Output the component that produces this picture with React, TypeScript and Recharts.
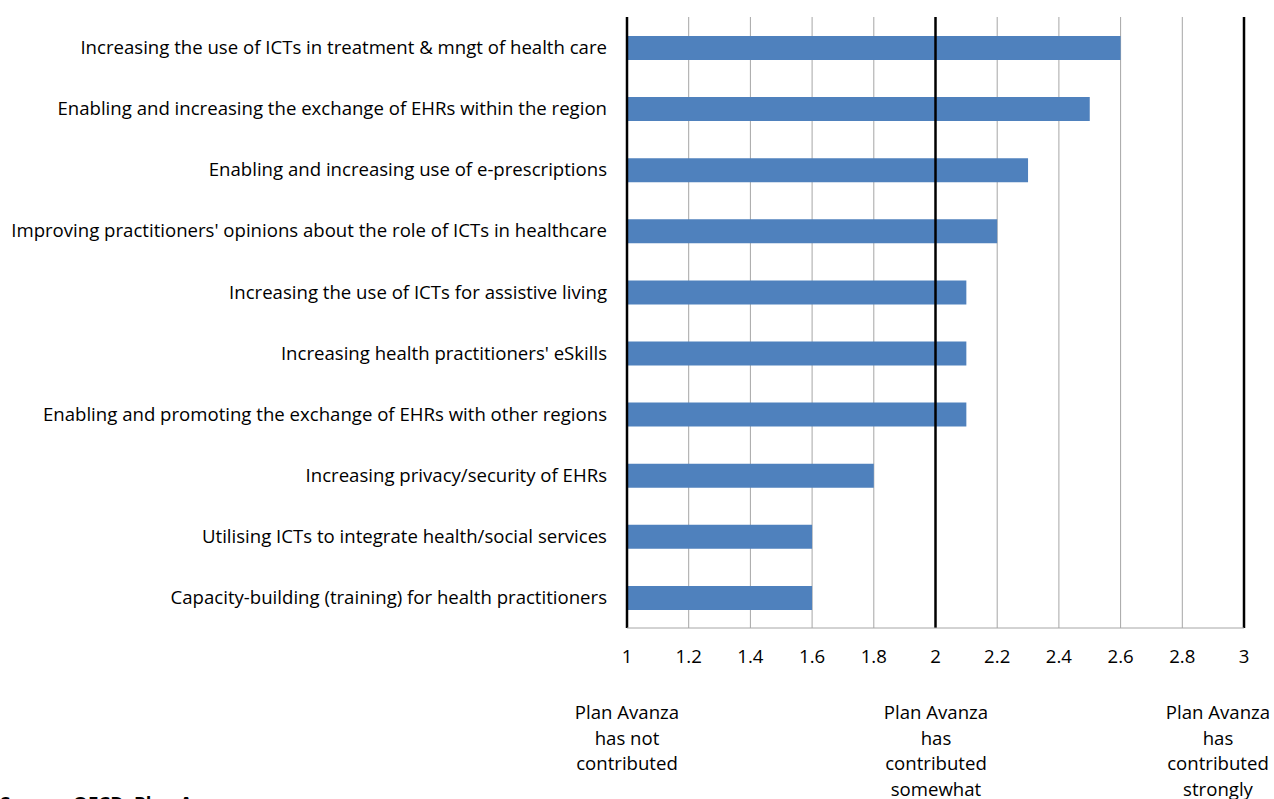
import React from 'react'
import { BarChart, Bar, XAxis, YAxis, CartesianGrid, ReferenceLine } from 'recharts'

const categories = [
  'Increasing the use of ICTs in treatment & mngt of health care',
  'Enabling and increasing the exchange of EHRs within the region',
  'Enabling and increasing use of e-prescriptions',
  "Improving practitioners' opinions about the role of ICTs in healthcare",
  'Increasing the use of ICTs for assistive living',
  "Increasing health practitioners' eSkills",
  'Enabling and promoting the exchange of EHRs with other regions',
  'Increasing privacy/security of EHRs',
  'Utilising ICTs to integrate health/social services',
  'Capacity-building (training) for health practitioners',
]
const scores = [2.6, 2.5, 2.3, 2.2, 2.1, 2.1, 2.1, 1.8, 1.6, 1.6]
const xTicks = [1, 1.2, 1.4, 1.6, 1.8, 2, 2.2, 2.4, 2.6, 2.8, 3]
const scaleMarks = [1, 2, 3]
const scaleLabels = [
  ['Plan Avanza', 'has not', 'contributed'],
  ['Plan Avanza', 'has', 'contributed', 'somewhat'],
  ['Plan Avanza', 'has', 'contributed', 'strongly'],
]

const data = categories.map((name, i) => ({ name, score: scores[i] }))

const FONT = '"Open Sans", sans-serif'
const FS = 18.6
const W = 1274
const H = 799

export default function App() {
  // label centres match the reference (last one is pulled in from the edge)
  const labelX = [627, 936, 1218]
  return (
    <div style={{ position: 'absolute', left: 0, top: 0, width: W, height: H, overflow: 'hidden', background: '#fff', fontFamily: FONT }}>
      <BarChart
        width={W}
        height={H}
        data={data}
        layout="vertical"
        margin={{ top: 17, right: 30, left: 0, bottom: 131 }}
        barSize={24}
      >
        <CartesianGrid horizontal={false} stroke="#a6a6a6" strokeWidth={1} />
        <XAxis
          type="number"
          domain={[1, 3]}
          ticks={xTicks}
          allowDataOverflow
          height={40}
          axisLine={{ stroke: '#a6a6a6' }}
          tickLine={false}
          tickMargin={16}
          tick={{ fill: '#000', fontSize: FS, fontFamily: FONT }}
        />
        <YAxis
          type="category"
          dataKey="name"
          width={627}
          axisLine={false}
          tickLine={false}
          tickMargin={14}
          interval={0}
          tick={{ fill: '#000', fontSize: FS, fontFamily: FONT }}
        />
        <Bar dataKey="score" fill="#4f81bd" isAnimationActive={false} />
        {scaleMarks.map((v) => (
          <ReferenceLine key={v} x={v} stroke="#000" strokeWidth={2.5} />
        ))}
      </BarChart>
      {scaleLabels.map((lines, i) => (
        <div
          key={i}
          style={{
            position: 'absolute',
            left: labelX[i] - 80,
            top: 699,
            width: 160,
            textAlign: 'center',
            fontSize: FS,
            lineHeight: '25.5px',
            color: '#000',
          }}
        >
          {lines.map((l) => (
            <div key={l}>{l}</div>
          ))}
        </div>
      ))}
      <div style={{ position: 'absolute', left: 0, top: 790, fontSize: FS, fontWeight: 700, color: '#000', whiteSpace: 'nowrap' }}>
        Source: OECD, Plan Avanza survey
      </div>
    </div>
  )
}
